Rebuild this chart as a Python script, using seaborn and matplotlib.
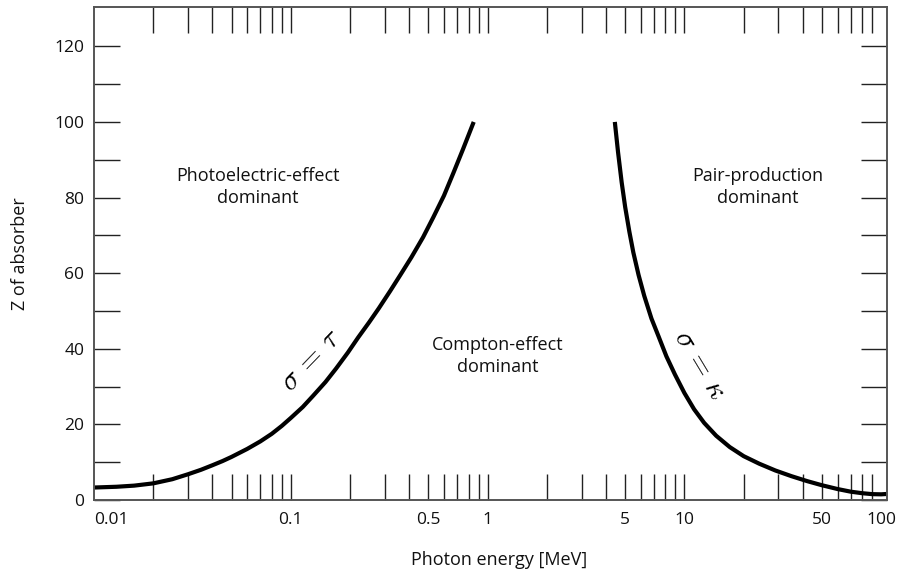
import matplotlib
matplotlib.use("Agg")
import matplotlib.pyplot as plt
from matplotlib.ticker import NullFormatter
import seaborn as sns
import pandas as pd

# ---- data ----
tau_energy = [0.01, 0.013, 0.016, 0.02, 0.025, 0.03, 0.035, 0.04, 0.045, 0.05, 0.06,
              0.07, 0.08, 0.09, 0.1, 0.115, 0.13, 0.15, 0.17, 0.195, 0.22, 0.25,
              0.28, 0.32, 0.36, 0.41, 0.47, 0.53, 0.6, 0.67, 0.75, 0.85]
tau_z = [3.3, 3.5, 3.8, 4.4, 5.5, 6.8, 8.0, 9.2, 10.3, 11.4, 13.5,
         15.5, 17.5, 19.6, 21.7, 24.6, 27.6, 31.2, 34.8, 39.0, 43.0, 47.0,
         50.7, 55.3, 59.5, 64.2, 69.5, 74.8, 80.5, 86.5, 92.8, 100.0]

kappa_energy = [4.43, 4.6, 4.8, 5.0, 5.25, 5.5, 5.85, 6.25, 6.8, 7.4, 8.1, 8.95,
                10.0, 11.2, 12.6, 14.5, 17.0, 20.0, 24.0, 29.0, 35.0, 42.0, 50.0,
                60.0, 70.0, 80.0, 90.0, 100.0, 107.0]
kappa_z = [100.0, 92.0, 84.0, 77.5, 71.0, 65.5, 59.5, 54.0, 48.0, 43.2, 38.0, 33.2,
           28.3, 24.0, 20.4, 17.0, 14.0, 11.6, 9.6, 7.8, 6.3, 5.0, 3.9,
           2.9, 2.2, 1.8, 1.55, 1.5, 1.6]

x_tick_values = [0.01, 0.1, 0.5, 1, 5, 10, 50, 100]
x_tick_labels = ["0.01", "0.1", "0.5", "1", "5", "10", "50", "100"]
y_tick_values = [0, 20, 40, 60, 80, 100, 120]

region_labels = ["Photoelectric-effect\ndominant", "Compton-effect\ndominant",
                 "Pair-production\ndominant"]
region_x = [0.0683, 1.13, 23.6]
region_y = [82.8, 38.0, 82.8]

curve_labels = [r"$\sigma\,=\,\tau$", r"$\sigma\,=\,\kappa$"]
curve_label_x = [0.127, 11.95]
curve_label_y = [37.0, 35.8]
curve_label_rot = [46, -59]

# ---- style ----
sns.set_style("white")
plt.rcParams["font.family"] = ["Open Sans", "DejaVu Sans"]
plt.rcParams["mathtext.fontset"] = "cm"

fig = plt.figure(figsize=(9.04, 5.79), dpi=100)
ax = fig.add_axes([94 / 904, 1 - 500 / 579, 793 / 904, 493 / 579])
ax.set_xscale("log")

tau_df = pd.DataFrame({"energy": tau_energy, "Z": tau_z})
kappa_df = pd.DataFrame({"energy": kappa_energy, "Z": kappa_z})
for df in (tau_df, kappa_df):
    sns.lineplot(data=df, x="energy", y="Z", ax=ax, color="black", lw=3.0,
                 estimator=None, sort=False, solid_joinstyle="round",
                 solid_capstyle="butt")

ax.set_xlim(0.01, 107)
ax.set_ylim(0, 130.4)

# x ticks
minor_x = [k * 10.0 ** n for n in range(-2, 2) for k in range(1, 10)]
minor_x = [v for v in minor_x if 0.0101 < v < 99]
ax.xaxis.remove_overlapping_locs = False
ax.set_xticks(x_tick_values, x_tick_labels)
ax.set_xticks(minor_x, minor=True)
ax.xaxis.set_minor_formatter(NullFormatter())
ax.tick_params(axis="x", which="major", length=0, pad=9, labelsize=12.5,
               colors="#111111")
ax.tick_params(axis="x", which="minor", length=19, width=1.0, direction="in",
               top=True, bottom=True, color="#222222")
for lab in ax.get_xticklabels():
    if lab.get_text() == "0.01":
        lab.set_horizontalalignment("left")

# y ticks
ax.set_yticks(y_tick_values)
ax.set_yticks([10, 30, 50, 70, 90, 110], minor=True)
ax.yaxis.set_minor_formatter(NullFormatter())
ax.tick_params(axis="y", which="both", length=19, width=1.0, direction="in",
               left=True, right=True, color="#222222")
ax.tick_params(axis="y", which="major", pad=7, labelsize=12.5, labelcolor="#111111")

for s in ax.spines.values():
    s.set_color("#555555")
    s.set_linewidth(1.4)

ax.set_xlabel("Photon energy [MeV]", fontsize=13, color="#111111")
ax.set_ylabel("Z of absorber", fontsize=13, color="#111111")
ax.xaxis.set_label_coords(0.511, -0.103)
ax.yaxis.set_label_coords(-0.082, 0.5)

for txt, xx, yy in zip(region_labels, region_x, region_y):
    ax.text(xx, yy, txt, ha="center", va="center", fontsize=13,
            linespacing=1.3, color="#111111", multialignment="center")

for txt, xx, yy, rot in zip(curve_labels, curve_label_x, curve_label_y, curve_label_rot):
    ax.text(xx, yy, txt, ha="center", va="center", fontsize=21, rotation=rot,
            rotation_mode="anchor", color="black")

fig.savefig("out.png", dpi=100)
